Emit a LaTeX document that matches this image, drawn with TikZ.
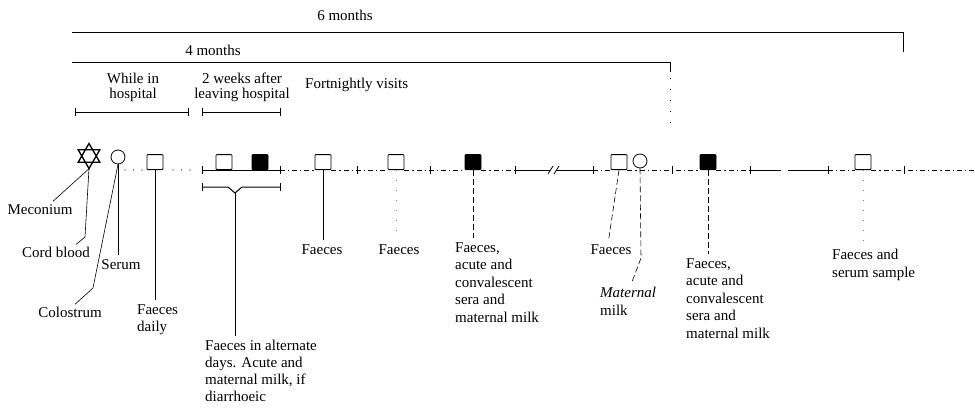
\documentclass[tikz,border=0pt]{standalone}
\usepackage{fontspec}
\setmainfont{Liberation Serif}

\tikzset{
  txt/.style={inner sep=0pt, align=left, font=\fontsize{15}{17.5}\selectfont},
  toptxt/.style={txt, align=center, font=\fontsize{15}{15}\selectfont},
  osq/.style={draw, line width=0.8pt, rounded corners=0.8pt, minimum width=16pt,
    minimum height=15pt, inner sep=0pt, anchor=south},
  fsq/.style={osq, fill=black},
  circ/.style={draw, circle, line width=0.8pt, minimum size=14pt, inner sep=0pt},
  axis/.style={line width=0.9pt, dash pattern=on 5pt off 3pt on 1.2pt off 3pt},
  dots/.style={line width=1.1pt, line cap=round, dash pattern=on 0pt off 8.5pt},
  bar/.style={line width=1pt},
  conn/.style={line width=0.6pt, shorten >=4pt},
  faint/.style={conn, dash pattern=on 6pt off 3pt},
  vfaint/.style={conn, gray, dash pattern=on 1pt off 9pt}
}

\begin{document}
\begin{tikzpicture}[x=1pt, y=-1pt]
      \useasboundingbox (0, 0) rectangle (975, 408);

      % Time spans
      \node[txt, anchor=north] (sixm) at (345, 10) {6 months};
      \coordinate (sm0) at (72, 32);
      \coordinate (sm1) at (903, 32);
      \draw[bar] (sm0) -- (sm1) -- ++(0, 20);
      \node[txt, anchor=north] (fourm) at (213, 45) {4 months};
      \coordinate (fm0) at (72, 62);
      \coordinate (fm1) at (670, 62);
      \draw[bar] (fm0) -- (fm1) -- ++(0, 10);
      \draw[line width=0.6pt, dash pattern=on 1pt off 10pt] (670, 78) -- (670, 125);

      % Periods
      \node[toptxt, anchor=north] (hosp)  at (133, 73) {While in\\hospital};
      \node[toptxt, anchor=north] (twowk) at (242, 73) {2 weeks after\\leaving hospital};
      \node[txt, anchor=north west] (fortn) at (305, 78) {Fortnightly visits};
      \draw[bar] (75, 112) -- (188, 112);
      \draw[bar] (202, 112) -- (280, 112);
      \foreach \x in {75, 188, 202, 280}
        \draw[bar] (\x, 108) -- (\x, 116);

      % Samples on the time line
      \node[inner sep=0pt, minimum size=25pt] (star) at (89, 156) {};
      \draw[line width=1.3pt]
             ([shift={(0, -12.5)}]star.center) --
             ([shift={(10.83, 6.25)}]star.center) --
             ([shift={(-10.83, 6.25)}]star.center) -- cycle
             ([shift={(0, 12.5)}]star.center) --
             ([shift={(10.83, -6.25)}]star.center) --
             ([shift={(-10.83, -6.25)}]star.center) -- cycle; % meconium
      \node[circ] (circ1) at (118, 157) {};
      \node[osq]  (sq1)  at (155, 170) {};
      \node[osq]  (sq2)  at (224, 170) {};
      \node[fsq]  (fsq1) at (260, 170) {};
      \node[osq]  (sq3)  at (323, 170) {};
      \node[osq]  (sq4)  at (396, 170) {};
      \node[fsq]  (fsq2) at (473, 170) {};
      \node[osq]  (sq5)  at (619, 170) {};
      \node[circ] (circ2) at (640, 161) {};
      \node[fsq]  (fsq3) at (708, 170) {};
      \node[osq]  (sq6)  at (863, 170) {};

      % Time line
      \draw[dots] (125, 170) -- (sq1.south west);
      \draw[dots] (173, 170) -- (195, 170);
      \draw[bar] (202, 170) -- (280, 170);
      \draw[axis] (280, 170) -- (sq3.south west);
      \draw[axis] (sq3.south east) -- (sq4.south west);
      \draw[axis] (sq4.south east) -- (fsq2.south west);
      \draw[axis] (fsq2.south east) -- (515, 170);
      \draw[bar] (515, 170) -- (550, 170);
      \draw[bar] (556, 170) -- (593, 170);
      \draw[line width=0.8pt] (548, 174) -- (553, 166);
      \draw[line width=0.8pt] (554, 174) -- (559, 166);
      \draw[axis] (593, 170) -- (sq5.south west);
      \draw[axis] (sq5.south east) -- (fsq3.south west);
      \draw[axis] (fsq3.south east) -- (750, 170);
      \draw[bar] (750, 170) -- (781, 170);
      \draw[bar] (788, 170) -- (828, 170);
      \draw[axis] (828, 170) -- (sq6.south west);
      \draw[axis] (sq6.south east) -- (975, 170);
      \foreach \x in {202, 280, 357, 430, 515, 593, 672, 750, 828, 904}
        \draw[bar] (\x, 166) -- (\x, 174);

      % Brace
      \coordinate (tip) at (235, 193);
      \draw[bar] (202, 187) -- (228, 187) -- (tip) -- (242, 187) -- (280, 187);
      \draw[bar] (202, 183) -- (202, 191);
      \draw[bar] (280, 183) -- (280, 191);

      % Labels
      \node[txt, anchor=north] (mecon) at (40, 204) {Meconium};
      \node[txt, anchor=north] (cord)  at (56, 247) {Cord blood};
      \node[txt, anchor=north] (serum) at (121, 259) {Serum};
      \node[txt, anchor=north] (colos) at (70, 307) {Colostrum};
      \node[txt, anchor=north west] (fdaily) at (137, 304) {Faeces\\daily};
      \node[txt, anchor=north west, font=\fontsize{15}{17}\selectfont] (falt) at (205, 340)
        {Faeces in alternate\\days. Acute and\\maternal milk, if\\diarrhoeic};
      \node[txt, anchor=north] (f1) at (322, 244) {Faeces};
      \node[txt, anchor=north] (f2) at (399, 244) {Faeces};
      \node[txt, anchor=north west] (facute1) at (455, 242)
        {Faeces,\\acute and\\convalescent\\sera and\\maternal milk};
      \node[txt, anchor=north] (f3) at (611, 244) {Faeces};
      \node[txt, anchor=north west] (mmilk) at (600, 287) {\textit{Maternal}\\milk};
      \node[txt, anchor=north west] (facute2) at (686, 258)
        {Faeces,\\acute and\\convalescent\\sera and\\maternal milk};
      \node[txt, anchor=north west] (fserum) at (832, 249) {Faeces and\\serum sample};

      % Connectors
      \draw[conn] (star.south) -- ([xshift=10pt]mecon.north);
      \draw[conn] (star.south) -- (85, 237) -- ([xshift=17pt]cord.north);
      \draw[conn] (circ1.south) -- (circ1.south |- serum.north);
      \draw[conn] (circ1.south) -- (93, 288) -- ([xshift=2pt]colos.north);
      \draw[conn] (sq1.south) -- (sq1.south |- fdaily.north);
      \draw[conn] (tip) -- (tip |- falt.north);
      \draw[conn] (sq3.south) -- (sq3.south |- f1.north);
      \draw[vfaint] (sq4.south) -- (sq4.south |- f2.north);
      \draw[faint] (fsq2.south) -- (fsq2.south |- facute1.north);
      \draw[faint] (sq5.south) -- ([xshift=-3pt]f3.north);
      \draw[faint] (circ2.south) -- (641, 258) -- ([xshift=30pt]mmilk.north west);
      \draw[faint] (fsq3.south) -- (fsq3.south |- facute2.north);
      \draw[vfaint] (sq6.south) -- (sq6.south |- fserum.north);
\end{tikzpicture}
\end{document}
